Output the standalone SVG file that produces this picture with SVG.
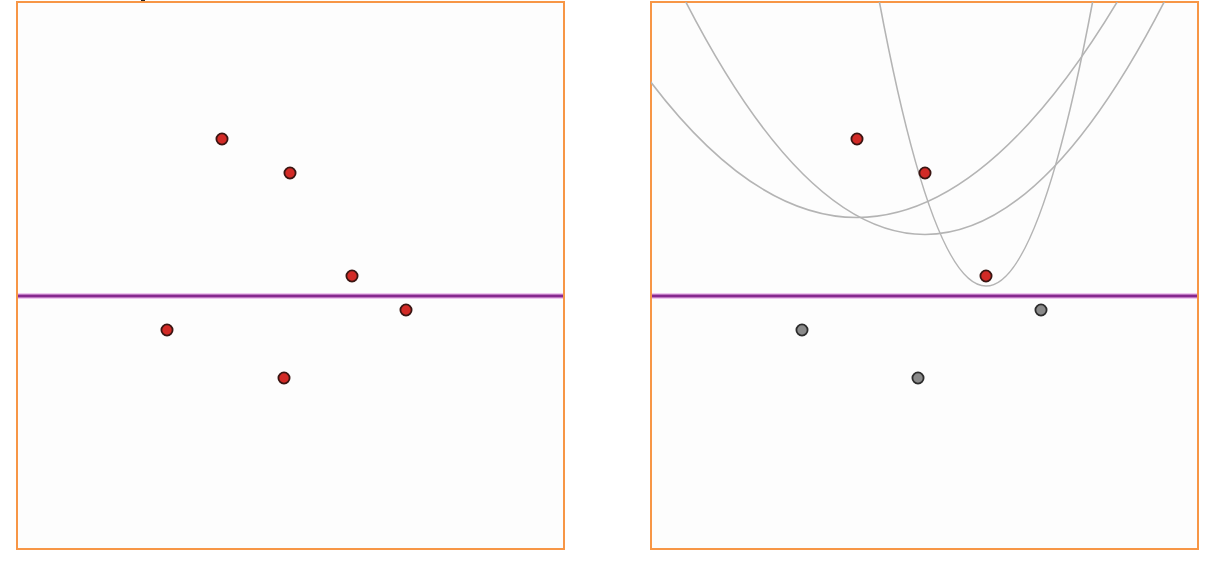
<svg xmlns="http://www.w3.org/2000/svg" width="1209" height="566" viewBox="0 0 1209 566">
<style>
.panel{fill:#fdfdfd;stroke:#f79646;stroke-width:2}
.halo{stroke:#f0c8f0;stroke-width:6}
.dir{stroke:#87288f;stroke-width:3}
.par{fill:none;stroke:#b4b4b4;stroke-width:1.6}
.red{fill:#d22a26;stroke:#3a1512;stroke-width:1.8}
.grey{fill:#8a8a8a;stroke:#2c2c2c;stroke-width:1.8}
</style>
<defs>
<clipPath id="rc"><rect x="651" y="2" width="547" height="547"/></clipPath>
</defs>
<rect width="1209" height="566" fill="#ffffff"/>
<rect x="141" y="0" width="4" height="2" fill="#222"/>
<g id="panel-left">
<rect class="panel" x="17" y="2" width="547" height="547"/>
</g>
<g id="panel-right">
<rect class="panel" x="651" y="2" width="547" height="547"/>
</g>
<g id="connectors">
<line class="halo" x1="18" y1="296" x2="563" y2="296"/>
<line class="dir" x1="18" y1="296" x2="563" y2="296"/>
<line class="halo" x1="652" y1="296" x2="1197" y2="296"/>
<line class="dir" x1="652" y1="296" x2="1197" y2="296"/>
<g clip-path="url(#rc)">
<path class="par" d="M507,-172.6 Q857,607.6 1207,-172.6"/>
<path class="par" d="M645,-84.2 Q925,553.2 1205,-84.2"/>
<path class="par" d="M866,-74 Q986,646 1106,-74"/>
</g>
</g>
<g id="left-points">
<g id="L1"><circle class="red" cx="222" cy="139" r="5.6"/></g>
<g id="L2"><circle class="red" cx="290" cy="173" r="5.6"/></g>
<g id="L3"><circle class="red" cx="352" cy="276" r="5.6"/></g>
<g id="L4"><circle class="red" cx="406" cy="310" r="5.6"/></g>
<g id="L5"><circle class="red" cx="167" cy="330" r="5.6"/></g>
<g id="L6"><circle class="red" cx="284" cy="378" r="5.6"/></g>
</g>
<g id="right-points">
<g id="R1"><circle class="red" cx="857" cy="139" r="5.6"/></g>
<g id="R2"><circle class="red" cx="925" cy="173" r="5.6"/></g>
<g id="R3"><circle class="red" cx="986" cy="276" r="5.6"/></g>
<g id="R4"><circle class="grey" cx="1041" cy="310" r="5.6"/></g>
<g id="R5"><circle class="grey" cx="802" cy="330" r="5.6"/></g>
<g id="R6"><circle class="grey" cx="918" cy="378" r="5.6"/></g>
</g>
</svg>
